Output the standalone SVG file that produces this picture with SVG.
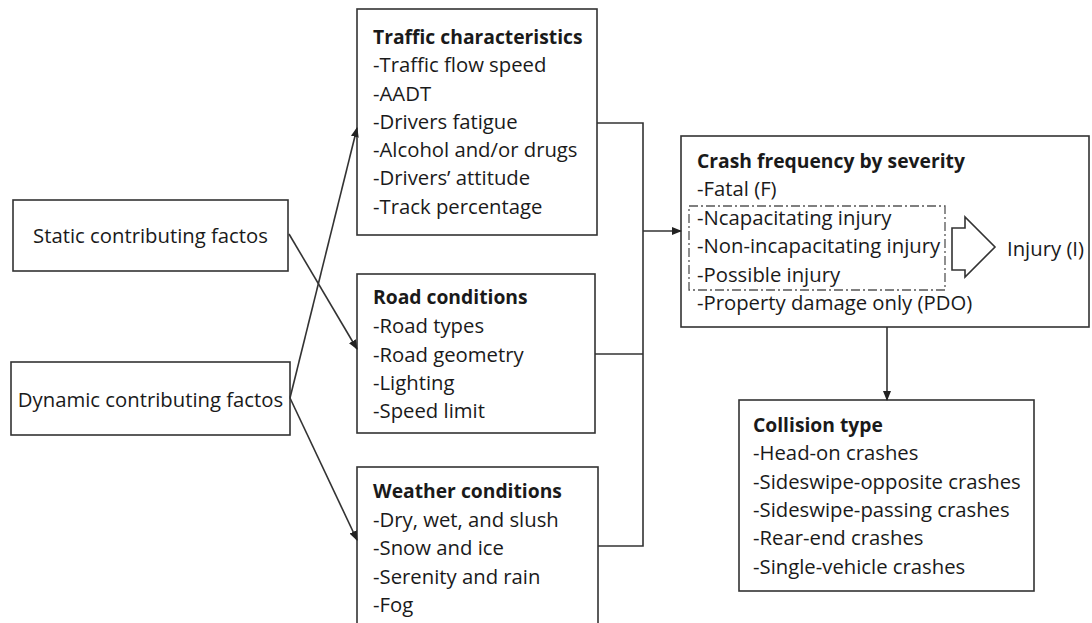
<svg xmlns="http://www.w3.org/2000/svg" width="1092" height="623" viewBox="0 0 1092 623">
<defs>
<style>
.box{fill:#fff;stroke:#333;stroke-width:1.6}
.ln{fill:none;stroke:#333;stroke-width:1.6}
.t{font-family:"Open Sans","Liberation Sans",sans-serif;font-size:20.3px;fill:#1a1a1a}
.b{font-weight:bold;font-size:19.3px}
.c{text-anchor:middle}
.dd{fill:none;stroke:#555;stroke-width:1.3;stroke-dasharray:9 3 2 3}
</style>
<marker id="ah" markerUnits="userSpaceOnUse" markerWidth="10" markerHeight="8" refX="9" refY="4" orient="auto">
<path d="M0,0 L10,4 L0,8 z" fill="#222"/>
</marker>
</defs>
<rect width="1092" height="623" fill="#fff"/>

<g id="static">
<rect class="box" x="13" y="200" width="275" height="71"/>
<text class="t c" x="150.5" y="243">Static contributing factos</text>
</g>

<g id="dynamic">
<rect class="box" x="11" y="362" width="279" height="73"/>
<text class="t c" x="150.5" y="407">Dynamic contributing factos</text>
</g>

<g id="traffic">
<rect class="box" x="357" y="9" width="240" height="226"/>
<text class="t b" x="373" y="44">Traffic characteristics</text>
<text class="t" x="373" y="72">-Traffic flow speed</text>
<text class="t" x="373" y="100.5">-AADT</text>
<text class="t" x="373" y="129">-Drivers fatigue</text>
<text class="t" x="373" y="157">-Alcohol and/or drugs</text>
<text class="t" x="373" y="185">-Drivers’ attitude</text>
<text class="t" x="373" y="213.5">-Track percentage</text>
</g>

<g id="road">
<rect class="box" x="357" y="274" width="238" height="159"/>
<text class="t b" x="373" y="304">Road conditions</text>
<text class="t" x="373" y="333">-Road types</text>
<text class="t" x="373" y="361.5">-Road geometry</text>
<text class="t" x="373" y="390">-Lighting</text>
<text class="t" x="373" y="418">-Speed limit</text>
</g>

<g id="weather">
<rect class="box" x="357" y="467" width="241" height="170"/>
<text class="t b" x="373" y="498">Weather conditions</text>
<text class="t" x="373" y="527">-Dry, wet, and slush</text>
<text class="t" x="373" y="555">-Snow and ice</text>
<text class="t" x="373" y="583.5">-Serenity and rain</text>
<text class="t" x="373" y="612">-Fog</text>
</g>

<g id="crash">
<rect class="box" x="681" y="136" width="408" height="191"/>
<text class="t b" x="697" y="167.5">Crash frequency by severity</text>
<text class="t" x="697" y="196">-Fatal (F)</text>
<text class="t" x="697" y="224.5">-Ncapacitating injury</text>
<text class="t" x="697" y="253">-Non-incapacitating injury</text>
<text class="t" x="697" y="281.5">-Possible injury</text>
<text class="t" x="697" y="310">-Property damage only (PDO)</text>
<rect class="dd" x="689" y="206" width="256" height="84"/>
<path class="ln" d="M952,228 L965,228 L965,217 L995,247 L965,277 L965,270 L952,270 Z" fill="#fff"/>
<text class="t" x="1007" y="256">Injury (I)</text>
</g>

<g id="collision">
<rect class="box" x="739" y="400" width="295" height="191"/>
<text class="t b" x="753" y="432">Collision type</text>
<text class="t" x="753" y="460">-Head-on crashes</text>
<text class="t" x="753" y="488.5">-Sideswipe-opposite crashes</text>
<text class="t" x="753" y="517">-Sideswipe-passing crashes</text>
<text class="t" x="753" y="545">-Rear-end crashes</text>
<text class="t" x="753" y="573.5">-Single-vehicle crashes</text>
</g>

<g id="connectors">
<line class="ln" x1="289" y1="234" x2="357" y2="349" marker-end="url(#ah)"/>
<line class="ln" x1="290" y1="398" x2="357" y2="128" marker-end="url(#ah)"/>
<line class="ln" x1="290" y1="398" x2="357" y2="540" marker-end="url(#ah)"/>
<path class="ln" d="M597,123 H643 V546 H598 M595,354 H643"/>
<line class="ln" x1="643" y1="231" x2="681" y2="231" marker-end="url(#ah)"/>
<line class="ln" x1="887" y1="327" x2="887" y2="400" marker-end="url(#ah)"/>
</g>
</svg>
